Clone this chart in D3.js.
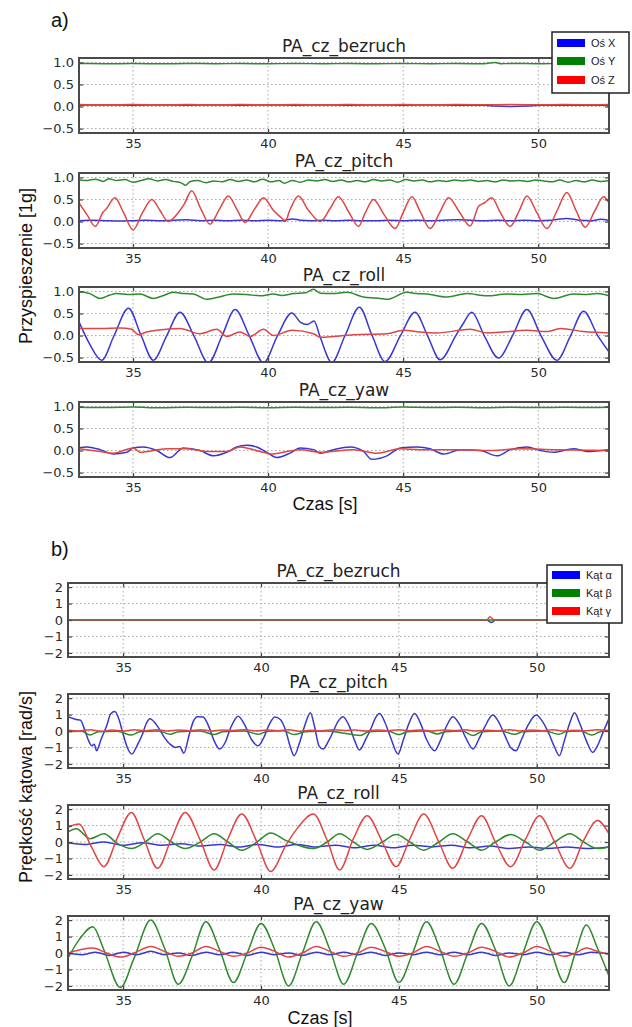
<!DOCTYPE html>
<html><head><meta charset="utf-8">
<script src="https://cdn.jsdelivr.net/npm/d3@7"></script>
<style>body{margin:0;background:#fff}svg{display:block}</style>
</head><body>
<svg id="c" width="632" height="1027"></svg>
<script>
// ---------------- DATA ----------------
const xTicks = [35, 40, 45, 50];
const yTicksA = [-0.5, 0, 0.5, 1.0];
const yTickLabelsA = ["\u22120.5", "0.0", "0.5", "1.0"];
const yTicksB = [-2, -1, 0, 1, 2];
const yTickLabelsB = ["\u22122", "\u22121", "0", "1", "2"];
const panelTitles = ["PA_cz_bezruch", "PA_cz_pitch", "PA_cz_roll", "PA_cz_yaw"];
const legendA = ["O\u015b X", "O\u015b Y", "O\u015b Z"];
const legendB = ["K\u0105t \u03b1", "K\u0105t \u03b2", "K\u0105t \u03b3"];

// part a) accelerations [time s, value g]
const a1X = [[33,0.03],[34,0.035],[35,0.03],[36,0.035],[37,0.03],[38,0.035],[39,0.03],[40,0.035],[41,0.03],[42,0.035],[43,0.03],[44,0.035],[45,0.03],[46,0.035],[47,0.03],[48,0.03],[48.4,0.01],[49,0.0],[49.6,0.01],[50,0.03],[51,0.03],[52,0.03],[52.62,0.03]];
const a1Y = [[33,0.975],[34,0.97],[35,0.975],[36,0.97],[37,0.975],[38,0.97],[39,0.975],[40,0.97],[41,0.975],[42,0.97],[43,0.975],[44,0.97],[45,0.975],[46,0.97],[47,0.975],[48,0.97],[48.4,1.0],[48.6,0.97],[49,0.975],[50,0.97],[51,0.975],[52,0.97],[52.62,0.975]];
const a1Z = [[33,0.045],[34,0.04],[35,0.045],[36,0.04],[37,0.045],[38,0.04],[39,0.045],[40,0.04],[41,0.045],[42,0.04],[43,0.045],[44,0.04],[45,0.045],[46,0.04],[47,0.045],[48,0.04],[49,0.045],[50,0.04],[51,0.045],[52,0.04],[52.62,0.045]];

const a2X = [[33,0.02],[33.5,0.03],[34,0.02],[34.5,0.01],[35,0.02],[35.5,0.03],[36,0.02],[36.5,0.03],[37,0.04],[37.5,0.02],[38,0.03],[38.5,0.02],[39,0.03],[39.5,0.02],[40,0.03],[40.5,0.02],[40.9,0.06],[41.2,0.03],[41.6,0.02],[42,0.03],[42.5,0.02],[43,0.03],[43.5,0.02],[44,0.02],[44.5,0.03],[45,0.02],[45.5,0.03],[46,0.02],[46.5,0.03],[47,0.04],[47.5,0.03],[48,0.02],[48.5,0.03],[49,0.02],[49.5,0.03],[50,0.02],[50.5,0.03],[51.06,0.07],[51.5,0.03],[52,0.02],[52.3,0.05],[52.62,0.03]];
const a2Y = [[33,0.95],[33.3,0.93],[33.6,0.96],[33.9,0.91],[34.1,0.97],[34.4,0.93],[34.7,0.95],[35,0.89],[35.3,0.93],[35.6,0.97],[35.9,0.92],[36.2,0.95],[36.5,0.91],[36.8,0.87],[36.95,0.82],[37.1,0.9],[37.4,0.93],[37.7,0.88],[38,0.92],[38.3,0.9],[38.6,0.95],[38.9,0.91],[39.2,0.94],[39.5,0.9],[39.8,0.96],[40.1,0.9],[40.4,0.93],[40.6,0.87],[40.9,0.93],[41.2,0.89],[41.5,0.94],[41.8,0.92],[42.1,0.95],[42.4,0.91],[42.7,0.94],[43,0.9],[43.3,0.93],[43.6,0.9],[43.9,0.95],[44.2,0.92],[44.5,0.94],[44.8,0.89],[45.1,0.95],[45.4,0.92],[45.7,0.94],[46,0.9],[46.3,0.93],[46.6,0.91],[46.9,0.94],[47.2,0.92],[47.5,0.94],[47.8,0.91],[48.1,0.93],[48.4,0.9],[48.7,0.94],[49,0.92],[49.3,0.93],[49.6,0.91],[49.9,0.94],[50.2,0.92],[50.5,0.9],[50.8,0.94],[51.1,0.89],[51.4,0.93],[51.7,0.9],[52,0.94],[52.3,0.91],[52.62,0.93]];
const a2Z = [[33,0.42],[33.3,0.15],[33.6,-0.11],[33.9,0.22],[34.0,0.28],[34.33,0.54],[34.65,0.2],[35,-0.19],[35.35,0.2],[35.7,0.5],[36,0.25],[36.3,0.0],[36.7,0.22],[36.9,0.4],[37.17,0.7],[37.5,0.3],[37.85,-0.06],[38.2,0.28],[38.53,0.58],[38.85,0.27],[39.15,-0.02],[39.5,0.28],[39.83,0.54],[40.2,0.25],[40.55,0.05],[40.63,0.0],[40.8,0.25],[41.12,0.58],[41.5,0.25],[41.93,0.0],[42.3,0.3],[42.6,0.56],[43,0.2],[43.35,-0.11],[43.6,0.2],[43.9,0.5],[44.3,0.15],[44.7,-0.16],[45,0.2],[45.32,0.56],[45.65,0.2],[46,-0.16],[46.35,0.2],[46.68,0.54],[47.1,0.2],[47.48,-0.1],[47.8,0.35],[48,0.42],[48.28,0.54],[48.6,0.2],[48.96,-0.11],[49.3,0.25],[49.58,0.58],[49.95,0.2],[50.32,-0.16],[50.7,0.25],[51.06,0.66],[51.4,0.25],[51.74,-0.13],[52.1,0.25],[52.42,0.56],[52.62,0.42]];

const a3X = [[33,0.31],[33.4,-0.2],[33.84,-0.56],[34.3,0.0],[34.83,0.62],[35.3,0.0],[35.75,-0.56],[36.25,0.0],[36.74,0.53],[37.25,0.0],[37.79,-0.62],[38.3,0.0],[38.78,0.59],[39.3,0.0],[39.83,-0.62],[40.35,0.0],[40.88,0.51],[41.2,0.3],[41.45,0.25],[41.7,0.33],[41.93,-0.04],[42.36,-0.61],[42.85,0.0],[43.38,0.64],[43.85,0.0],[44.33,-0.59],[44.9,0.0],[45.44,0.53],[45.9,0.0],[46.37,-0.55],[46.95,0.0],[47.2,0.25],[47.54,0.53],[48,0.0],[48.53,-0.51],[49.05,0.0],[49.58,0.59],[50.1,0.0],[50.69,-0.56],[51.2,0.0],[51.68,0.55],[52.2,0.0],[52.62,-0.37]];
const a3Y = [[33,1.0],[33.4,0.95],[33.78,0.84],[34.15,0.92],[34.4,0.95],[34.8,0.93],[35.26,0.94],[35.75,0.84],[36.1,0.9],[36.49,0.98],[36.9,0.95],[37.23,0.94],[37.73,0.82],[38.1,0.86],[38.72,0.94],[39.2,0.93],[39.7,0.9],[40.2,0.94],[40.5,0.91],[40.94,0.95],[41.4,0.97],[41.68,1.05],[41.93,0.96],[42.4,0.95],[42.92,0.98],[43.53,0.875],[44.0,0.85],[44.4,0.82],[45.14,0.98],[45.5,0.95],[45.88,0.94],[46.62,0.875],[47.36,0.95],[48.1,0.9],[48.84,0.94],[49.4,0.93],[49.95,0.95],[50.57,0.84],[51.31,0.94],[51.8,0.93],[52.18,0.95],[52.62,0.9]];
const a3Z = [[33,0.16],[33.78,0.16],[34.52,0.17],[34.95,0.14],[35.2,0.02],[35.5,0.08],[35.88,0.12],[36.74,0.16],[37.48,0.04],[38.1,0.14],[38.47,-0.02],[38.96,0.08],[39.33,-0.02],[39.83,0.14],[40.2,0.0],[40.88,0.12],[41.68,0.04],[41.93,-0.04],[43.16,0.02],[44.4,0.04],[45.02,0.12],[45.63,0.08],[46.25,0.06],[47.49,0.14],[48.1,0.06],[48.72,0.08],[49.58,0.12],[50.33,0.09],[50.82,0.16],[51.68,0.09],[52.62,0.06]];

const a4X = [[33,0.06],[33.28,0.08],[33.78,0.02],[34.27,-0.08],[34.77,-0.04],[35.01,0.06],[35.38,0.08],[35.88,0.0],[36.37,-0.16],[36.86,0.06],[37.48,0.0],[37.98,-0.12],[38.47,-0.04],[38.84,0.08],[39.21,0.12],[39.58,0.08],[39.95,-0.04],[40.32,-0.16],[40.81,-0.06],[41.19,0.06],[41.68,0.02],[41.93,-0.06],[42.42,0.02],[43.04,0.08],[43.53,-0.02],[43.84,-0.2],[44.4,-0.12],[44.89,0.06],[45.51,0.08],[46,0.04],[46.5,-0.08],[47.12,0.02],[47.86,0.0],[48.47,-0.12],[48.97,0.02],[49.58,0.08],[50.08,0.0],[50.57,-0.04],[51.31,0.04],[51.8,-0.02],[52.62,0.02]];
const a4Y = [[33,0.98],[34,0.975],[35,0.985],[36,0.97],[37,0.98],[38,0.975],[39,0.98],[40,0.97],[41,0.98],[42,0.975],[43,0.98],[44,0.97],[45,0.985],[46,0.975],[47,0.98],[48,0.97],[49,0.98],[50,0.975],[51,0.98],[52,0.975],[52.62,0.98]];
const a4Z = [[33,0.04],[33.78,-0.02],[34.27,-0.06],[35.01,0.06],[35.26,-0.04],[36.25,0.04],[36.99,0.04],[37.73,-0.02],[38.47,-0.02],[38.96,0.08],[39.7,-0.02],[40.2,-0.08],[40.69,-0.02],[41.19,0.02],[41.93,-0.04],[43.16,0.02],[44.03,-0.06],[44.89,0.04],[45.63,0.02],[46.87,0.02],[48.1,0.0],[49.34,0.04],[50.57,0.02],[52.62,0.0]];

// part b) angular rates [time s, value rad/s]
const b1A = [[33,-0.02],[35,-0.02],[37,-0.02],[39,-0.02],[41,-0.02],[43,-0.02],[45,-0.02],[47,-0.02],[48.2,-0.02],[48.35,-0.15],[48.5,-0.02],[50,-0.02],[52.62,-0.02]];
const b1B = [[33,0.0],[35,0.0],[37,0.0],[39,0.0],[41,0.0],[43,0.0],[45,0.0],[47,0.0],[49,0.0],[51,0.0],[52.62,0.0]];
const b1G = [[33,0.02],[35,0.02],[37,0.02],[39,0.02],[41,0.02],[43,0.02],[45,0.02],[47,0.02],[48.2,0.02],[48.3,0.2],[48.45,0.02],[50,0.02],[52.62,0.02]];

const b2A = [[33,0.87],[33.3,0.7],[33.45,0.66],[33.6,0.1],[33.75,-0.6],[33.86,-0.9],[33.95,-0.8],[34.04,-1.2],[34.2,-0.5],[34.4,0.3],[34.55,1.05],[34.7,1.18],[34.85,0.7],[35,-0.2],[35.15,-1.0],[35.32,-1.4],[35.5,-0.9],[35.7,-0.2],[35.85,0.5],[35.97,0.75],[36.2,0.4],[36.5,-0.4],[36.7,-0.8],[36.9,-1.0],[37.05,-0.95],[37.2,-1.35],[37.4,-0.2],[37.55,0.6],[37.7,0.87],[37.9,0.85],[38.1,0.3],[38.3,-0.6],[38.5,-1.1],[38.7,-0.7],[38.9,0.2],[39.17,0.9],[39.4,0.4],[39.65,-0.5],[39.9,-0.9],[40.1,-0.4],[40.3,0.4],[40.5,0.85],[40.7,0.7],[40.9,0.0],[41.05,-0.9],[41.2,-1.5],[41.4,-0.7],[41.6,0.4],[41.79,1.11],[41.95,0.2],[42.1,-0.9],[42.25,-1.1],[42.45,-0.6],[42.6,-0.1],[42.8,0.6],[42.97,0.87],[43.2,0.3],[43.4,-0.6],[43.57,-1.15],[43.8,-0.5],[44,0.2],[44.15,0.8],[44.3,1.07],[44.5,0.5],[44.7,-0.4],[44.97,-1.4],[45.15,-0.6],[45.35,0.4],[45.57,1.07],[45.8,0.4],[46,-0.5],[46.3,-1.2],[46.5,-0.6],[46.7,0.2],[46.96,0.87],[47.2,0.4],[47.45,-0.5],[47.69,-1.09],[47.9,-0.5],[48.1,0.2],[48.41,0.97],[48.6,0.6],[48.85,-0.3],[49.05,-1.0],[49.25,-1.2],[49.45,-0.5],[49.7,0.4],[49.98,0.97],[50.2,0.6],[50.45,-0.2],[50.65,-1.0],[50.82,-1.5],[51,-0.6],[51.2,0.5],[51.37,1.11],[51.55,0.5],[51.8,-0.6],[52.03,-1.3],[52.2,-0.9],[52.4,-0.1],[52.62,0.76]];
const b2B = [[33,-0.05],[33.5,-0.02],[33.8,-0.25],[34.1,-0.05],[34.8,-0.02],[35.3,-0.25],[35.6,-0.05],[36.3,0.0],[36.7,-0.2],[37.0,-0.05],[37.8,0.0],[38.3,-0.22],[38.6,-0.05],[39.4,0.0],[39.9,-0.2],[40.2,-0.03],[40.8,0.02],[41.2,-0.22],[41.6,-0.05],[42.4,0.0],[42.9,-0.1],[43.6,-0.27],[43.9,-0.05],[44.6,0.0],[45.0,-0.22],[45.3,-0.05],[46.0,0.0],[46.4,-0.18],[46.7,-0.04],[47.3,0.0],[47.7,-0.28],[48.0,-0.05],[48.7,0.0],[49.2,-0.2],[49.5,-0.04],[50.3,0.0],[50.8,-0.2],[51.1,-0.03],[51.6,0.0],[52.0,-0.25],[52.3,-0.05],[52.62,0.0]];
const b2G = [[33,0.05],[33.4,0.0],[33.8,0.08],[34.2,-0.02],[34.6,0.06],[35,0.0],[35.4,0.07],[35.8,0.02],[36.2,0.08],[36.6,0.0],[37,0.06],[37.4,0.02],[37.8,0.08],[38.2,0.0],[38.6,0.06],[39,0.03],[39.4,0.08],[39.8,0.0],[40.2,0.06],[40.6,0.02],[41,0.07],[41.4,-0.02],[41.8,0.05],[42.2,0.02],[42.6,0.08],[43,0.03],[43.4,0.06],[43.8,0.0],[44.2,0.06],[44.6,0.02],[45,0.08],[45.4,0.02],[45.8,0.06],[46.2,0.0],[46.6,0.06],[47,0.03],[47.4,0.07],[47.8,0.0],[48.2,0.05],[48.6,0.02],[49,0.08],[49.4,0.0],[49.8,0.06],[50.2,0.02],[50.6,0.07],[51,0.0],[51.4,0.05],[51.8,0.02],[52.2,0.07],[52.62,0.03]];

const b3A = [[33,-0.05],[33.6,-0.15],[34.3,0.0],[35,-0.2],[35.7,-0.05],[36.4,-0.2],[37.1,-0.1],[37.8,-0.25],[38.5,-0.15],[39.2,-0.3],[39.9,-0.15],[40.6,-0.3],[41.3,-0.15],[42,-0.3],[42.7,-0.2],[43.4,-0.35],[44.1,-0.2],[44.8,-0.35],[45.5,-0.2],[46.2,-0.3],[46.9,-0.2],[47.6,-0.35],[48.3,-0.25],[49,-0.4],[49.7,-0.3],[50.4,-0.4],[51.1,-0.3],[51.8,-0.4],[52.62,-0.3]];
const b3B = [[33,0.6],[33.3,0.8],[33.8,0.2],[34.3,0.5],[34.8,-0.1],[35.3,-0.4],[35.8,0.0],[36.25,0.5],[36.75,0.0],[37.25,-0.4],[37.8,0.0],[38.3,0.5],[38.8,0.0],[39.3,-0.5],[39.85,0.0],[40.35,0.55],[40.9,0.1],[41.9,-0.4],[42.4,0.0],[42.85,0.5],[43.35,0.0],[43.85,-0.45],[44.4,0.0],[44.9,0.45],[45.4,0.0],[45.9,-0.5],[46.45,0.0],[46.95,0.5],[47.5,0.0],[48.0,-0.5],[48.5,0.0],[49.05,0.45],[49.6,0.0],[50.1,-0.5],[50.65,0.0],[51.2,0.5],[51.7,0.0],[52.2,-0.4],[52.62,-0.3]];
const b3G = [[33,0.9],[33.4,1.1],[33.85,-0.3],[34.3,-1.5],[34.8,0.3],[35.3,1.8],[35.75,0.2],[36.25,-1.6],[36.75,0.2],[37.25,1.8],[37.8,0.1],[38.3,-1.7],[38.8,0.2],[39.3,1.7],[39.85,0.0],[40.35,-1.8],[40.9,-0.2],[41.3,0.8],[41.9,1.7],[42.4,0.1],[42.85,-1.7],[43.35,0.2],[43.85,1.6],[44.4,0.0],[44.9,-1.5],[45.4,0.2],[45.9,1.7],[46.45,0.0],[46.95,-1.6],[47.5,0.2],[48.0,1.6],[48.5,0.0],[49.05,-1.5],[49.6,0.2],[50.1,1.6],[50.65,0.0],[51.2,-1.6],[51.7,0.1],[52.2,1.3],[52.62,0.5]];

const b4A = [[33,0.0],[33.5,-0.1],[34,0.05],[34.5,-0.15],[35,0.05],[35.5,-0.1],[36,0.1],[36.5,-0.1],[37,0.0],[37.5,-0.15],[38,0.05],[38.5,-0.1],[39,0.05],[39.5,-0.15],[40,0.05],[40.5,-0.1],[41,0.0],[41.5,-0.15],[42,0.05],[42.5,-0.1],[43,0.05],[43.5,-0.1],[44,0.05],[44.5,-0.15],[45,0.0],[45.5,-0.1],[46,0.05],[46.5,-0.1],[47,0.05],[47.5,-0.1],[48,0.05],[48.5,-0.15],[49,0.0],[49.5,-0.1],[50,0.05],[50.5,-0.1],[51,0.05],[51.5,-0.1],[52,0.05],[52.62,-0.05]];
const b4B = [[33,-0.3],[33.4,0.8],[33.9,1.6],[34.3,0.2],[34.9,-2.1],[35.4,-0.3],[36.0,2.0],[36.5,0.3],[37.0,-1.9],[37.5,-0.2],[38.0,1.9],[38.5,0.2],[39.0,-1.8],[39.5,0.0],[40.0,1.8],[40.5,0.2],[41.0,-2.0],[41.5,0.0],[42.0,1.9],[42.5,0.2],[43.0,-1.9],[43.5,0.0],[44.0,1.8],[44.5,0.3],[45.0,-1.8],[45.5,0.0],[46.0,1.9],[46.5,0.2],[47.0,-1.9],[47.5,0.0],[48.0,1.8],[48.5,0.2],[49.0,-2.0],[49.5,0.0],[50.0,1.9],[50.5,0.2],[51.0,-1.8],[51.4,0.0],[51.8,1.7],[52.2,0.3],[52.62,-1.4]];
const b4G = [[33,0.0],[33.9,0.3],[34.4,0.0],[34.9,-0.25],[35.4,0.0],[36.0,0.4],[36.5,0.1],[37.0,-0.2],[37.5,0.0],[38.0,0.4],[38.5,0.1],[39.0,-0.2],[39.5,0.0],[40.0,0.35],[40.5,0.1],[41.0,-0.25],[41.5,0.0],[42.0,0.4],[42.5,0.1],[43.0,-0.2],[43.5,0.0],[44.0,0.35],[44.5,0.1],[45.0,-0.2],[45.5,0.0],[46.0,0.4],[46.5,0.1],[47.0,-0.2],[47.5,0.0],[48.0,0.35],[48.5,0.1],[49.0,-0.25],[49.5,0.0],[50.0,0.4],[50.5,0.1],[51.0,-0.2],[51.4,0.0],[51.8,0.3],[52.2,0.1],[52.62,-0.1]];

// ---------------- LAYOUT / STYLE ----------------
const colors = ["#3838d0", "#2d8a2d", "#e04545"];
const legendColors = ["#0000ff", "#008000", "#ff0000"];
const xDomain = [33, 52.62];
const partA = {left:79, right:609, tops:[58,173,287,402], h:75, yDomain:[-0.6,1.1], yTicks:yTicksA, yLabels:yTickLabelsA,
  series:[[a1X,a1Y,a1Z],[a2X,a2Y,a2Z],[a3X,a3Y,a3Z],[a4X,a4Y,a4Z]]};
const partB = {left:68, right:609, tops:[583,694,805,916], h:74, yDomain:[-2.25,2.25], yTicks:yTicksB, yLabels:yTickLabelsB,
  series:[[b1A,b1B,b1G],[b2A,b2B,b2G],[b3A,b3B,b3G],[b4A,b4B,b4G]]};

const svg = d3.select("#c");
const tickFont = "DejaVu Sans";
let clipId = 0;

function drawPart(P){
  const x = d3.scaleLinear().domain(xDomain).range([P.left, P.right]);
  P.tops.forEach((top, pi) => {
    const y = d3.scaleLinear().domain(P.yDomain).range([top + P.h, top]);
    const g = svg.append("g");
    g.selectAll(".gx").data(xTicks).enter().append("line")
      .attr("x1", d=>x(d)).attr("x2", d=>x(d)).attr("y1", top).attr("y2", top+P.h)
      .attr("stroke", "#a8a8a8").attr("stroke-width", 1).attr("stroke-dasharray", "1.5,2.5");
    g.selectAll(".gy").data(P.yTicks).enter().append("line")
      .attr("x1", P.left).attr("x2", P.right).attr("y1", d=>y(d)).attr("y2", d=>y(d))
      .attr("stroke", "#a8a8a8").attr("stroke-width", 1).attr("stroke-dasharray", "1.5,2.5");
    const cid = "clip" + (clipId++);
    svg.append("clipPath").attr("id", cid).append("rect")
      .attr("x", P.left).attr("y", top).attr("width", P.right-P.left).attr("height", P.h);
    const line = d3.line().x(d=>x(d[0])).y(d=>y(d[1])).curve(d3.curveMonotoneX);
    const lg = g.append("g").attr("clip-path", "url(#" + cid + ")");
    P.series[pi].forEach((s, si) => {
      lg.append("path").datum(s).attr("d", line).attr("fill", "none")
        .attr("stroke", colors[si]).attr("stroke-width", 1.5).attr("stroke-linejoin", "round");
    });
    const axB = g.append("g").attr("transform", `translate(0,${top+P.h})`)
      .call(d3.axisBottom(x).tickValues(xTicks).tickSizeInner(-4).tickSizeOuter(0).tickPadding(6).tickFormat(d3.format("d")));
    const axT = g.append("g").attr("transform", `translate(0,${top})`)
      .call(d3.axisTop(x).tickValues(xTicks).tickSizeInner(-4).tickSizeOuter(0).tickFormat(""));
    const axL = g.append("g").attr("transform", `translate(${P.left},0)`)
      .call(d3.axisLeft(y).tickValues(P.yTicks).tickSizeInner(-4).tickSizeOuter(0).tickPadding(5).tickFormat((d,i)=>P.yLabels[i]));
    const axR = g.append("g").attr("transform", `translate(${P.right},0)`)
      .call(d3.axisRight(y).tickValues(P.yTicks).tickSizeInner(-4).tickSizeOuter(0).tickFormat(""));
    [axB, axT, axL, axR].forEach(a => {
      a.select(".domain").remove();
      a.selectAll("line").attr("stroke", "#444").attr("stroke-width", 1.2);
      a.selectAll("text").attr("font-family", tickFont).attr("font-size", 13).attr("fill", "#2a2a2a");
    });
    g.append("rect").attr("x", P.left).attr("y", top).attr("width", P.right-P.left).attr("height", P.h)
      .attr("fill", "none").attr("stroke", "#4a4a4a").attr("stroke-width", 2);
    g.append("text").attr("x", (P.left+P.right)/2).attr("y", top-6).attr("text-anchor", "middle")
      .attr("font-family", tickFont).attr("font-size", 17).attr("fill", "#222").text(panelTitles[pi]);
  });
}
drawPart(partA);
drawPart(partB);

function legend(lx, ly, w, h, labels, rowYs){
  const g = svg.append("g");
  g.append("rect").attr("x", lx).attr("y", ly).attr("width", w).attr("height", h)
    .attr("fill", "#fff").attr("stroke", "#222").attr("stroke-width", 1.5);
  labels.forEach((t, i) => {
    g.append("rect").attr("x", lx+5).attr("y", rowYs[i]-4).attr("width", 28).attr("height", 8).attr("fill", legendColors[i]);
    g.append("text").attr("x", lx+39).attr("y", rowYs[i]).attr("dy", "0.35em")
      .attr("font-family", "Liberation Sans").attr("font-size", 11).attr("fill", "#222").text(t);
  });
}
legend(552, 32, 77, 61, legendA, [43, 61, 80]);
legend(547, 565, 75, 58, legendB, [575, 593, 611]);

const lab = (x, y, t, size, rot) => {
  const el = svg.append("text").attr("font-family", "Liberation Sans").attr("font-size", size).attr("fill", "#111").text(t);
  if (rot) el.attr("transform", `translate(${x},${y}) rotate(-90)`).attr("text-anchor", "middle");
  else el.attr("x", x).attr("y", y);
  return el;
};
lab(51, 27, "a)", 20);
lab(51, 556, "b)", 20);
lab(325, 510, "Czas [s]", 18).attr("text-anchor", "middle");
lab(320, 1024, "Czas [s]", 18).attr("text-anchor", "middle");
lab(32, 266, "Przyspieszenie [1g]", 18, true);
lab(32, 787, "Pr\u0119dko\u015b\u0107 k\u0105towa [rad/s]", 18, true);
</script>
</body></html>
